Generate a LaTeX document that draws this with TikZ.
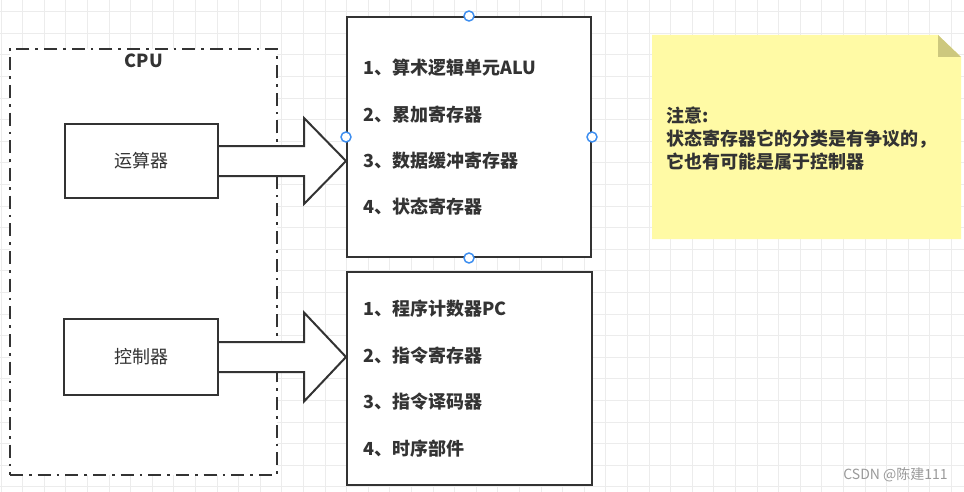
\documentclass[tikz,border=0pt]{standalone}
\usepackage{fontspec}
\setmainfont{Noto Sans CJK SC}
\usetikzlibrary{calc}
\definecolor{ln}{HTML}{333333}
\definecolor{gridc}{HTML}{ECECEC}
\definecolor{notefill}{HTML}{FFFAA5}
\definecolor{notefold}{HTML}{CDC87E}
\definecolor{handle}{HTML}{3D8EF0}
\definecolor{wmark}{HTML}{9A9A9A}
\tikzset{
  gridline/.style={draw=gridc, line width=0.75pt},
  plainbox/.style={draw=ln, fill=white, line width=1.5pt, inner sep=0pt},
  cpubox/.style={draw=ln, fill=white, line width=1.6pt, inner sep=0pt,
    dash pattern=on 9.75pt off 4.6pt on 1.8pt off 4.6pt},
  boxlabel/.style={font=\fontsize{13.5pt}{16pt}\selectfont, text=ln},
  item/.style={anchor=west, inner sep=0pt, font=\fontsize{13.5pt}{16pt}\selectfont\bfseries, text=ln},
  blockarrow/.style={draw=ln, fill=white, line width=1.5pt, line join=miter},
  handledot/.style={circle, draw=handle, fill=white, line width=1.1pt, minimum size=7.5pt, inner sep=0pt},
}
\begin{document}
\begin{tikzpicture}[x=0.75pt, y=-0.75pt]
\useasboundingbox (0,0) rectangle (964,492);
\fill[white] (0,0) rectangle (964,492);
% background grid
\foreach \i in {0,...,44} {
  \draw[gridline] ({1+21.6*\i},0) -- ({1+21.6*\i},492);
}
\foreach \j in {0,...,22} {
  \draw[gridline] (0,{11.7+21.6*\j}) -- (964,{11.7+21.6*\j});
}
% CPU container
\node[cpubox, minimum width=200.25pt, minimum height=319.5pt] (cpu) at (143.5,262) {};
\node[font=\fontsize{13.5pt}{16pt}\selectfont\bfseries, text=ln, inner sep=0pt] (cpulbl) at (144,61) {CPU};
% inner units
\node[plainbox, boxlabel, minimum width=114.75pt, minimum height=55.5pt] (ys) at (141.5,161) {运算器};
\node[plainbox, boxlabel, minimum width=115.5pt, minimum height=57pt] (kz) at (141,357) {控制器};
% right boxes
\node[plainbox, minimum width=183pt, minimum height=180pt] (ar1) at (469,137) {};
\node[plainbox, minimum width=183.75pt, minimum height=159.75pt] (ar2) at (469.5,378.5) {};
% items
\node[item] (a1) at (363,68) {1、算术逻辑单元ALU};
\node[item] (a2) at (363,115) {2、累加寄存器};
\node[item] (a3) at (363,161) {3、数据缓冲寄存器};
\node[item] (a4) at (363,207) {4、状态寄存器};
\node[item] (b1) at (363,309) {1、程序计数器PC};
\node[item] (b2) at (363,356) {2、指令寄存器};
\node[item] (b3) at (363,402) {3、指令译码器};
\node[item] (b4) at (363,449) {4、时序部件};
% block arrows
\coordinate (t1) at (ar1.west |- ys.east);
\coordinate (t2) at (ar2.west |- kz.east);
\draw[blockarrow] ($(ys.east)+(0,15)$) -- ($(t1)+(-42,15)$) -- ($(t1)+(-42,43)$) -- (t1)
  -- ($(t1)+(-42,-43)$) -- ($(t1)+(-42,-15)$) -- ($(ys.east)+(0,-15)$);
\draw[blockarrow] ($(kz.east)+(0,15)$) -- ($(t2)+(-42,15)$) -- ($(t2)+(-42,44.5)$) -- (t2)
  -- ($(t2)+(-42,-44.5)$) -- ($(t2)+(-42,-15)$) -- ($(kz.east)+(0,-15)$);
% selection handles
\node[handledot] (h1) at (ar1.north) {};
\node[handledot] (h2) at (ar1.south) {};
\node[handledot] (h3) at (ar1.west) {};
\node[handledot] (h4) at (ar1.east) {};
% note
\fill[notefill] (652,35) -- (938,35) -- (961,57) -- (961,239) -- (652,239) -- cycle;
\fill[notefold] (938,35) -- (961,57) -- (938,57) -- cycle;
\node[anchor=west, align=left, inner sep=0pt, text=ln,
  font=\fontsize{13.5pt}{17.25pt}\selectfont\bfseries] (note) at (666,139)
  {注意:\\状态寄存器它的分类是有争议的，\\它也有可能是属于控制器};
% watermark
\node[anchor=east, inner sep=0pt, text=wmark, font=\fontsize{10.5pt}{12pt}\selectfont] (wm) at (948,475) {CSDN @陈建111};
\end{tikzpicture}
\end{document}
